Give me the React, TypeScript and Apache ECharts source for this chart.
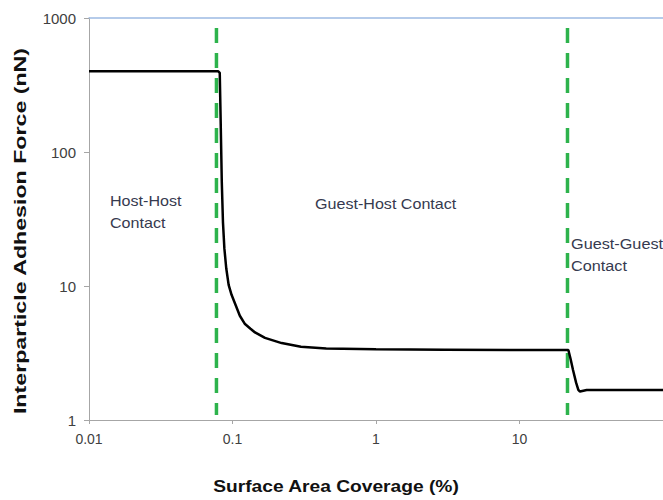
import React, { useEffect, useRef } from "react";
import * as echarts from "echarts";

// Surface area coverage (%) and interparticle adhesion force (nN)
const coverage = [0.01, 0.0796, 0.0815, 0.0828, 0.0842, 0.0858, 0.0878, 0.0905, 0.094, 0.0985, 0.1041, 0.1125, 0.1222, 0.1335, 0.1435, 0.1684, 0.22, 0.3, 0.45, 1, 3, 10, 21.9, 22.7, 23.6, 24.8, 25.7, 26.4, 29.4, 100];
const force = [400, 400, 390, 160, 60, 30, 19, 13.5, 10.2, 8.6, 7.4, 6.0, 5.2, 4.8, 4.5, 4.1, 3.75, 3.52, 3.42, 3.38, 3.35, 3.33, 3.33, 2.85, 2.36, 1.9, 1.68, 1.63, 1.675, 1.675];

// Regime boundaries (coverage %) and dashed line extent (nN)
const boundaries = [0.0773, 21.6];
const boundaryRange = [842, 1.09];

const regionLabels = ["Host-Host\nContact", "Guest-Host Contact", "Guest-Guest\nContact"];
const xTitle = "Surface Area Coverage (%)";
const yTitle = "Interparticle Adhesion Force (nN)";

const FONT = "'Liberation Sans', Arial, sans-serif";

export default function App() {
  const ref = useRef<HTMLDivElement>(null);
  useEffect(() => {
    if (!ref.current) return;
    const chart = echarts.init(ref.current, null, { renderer: "svg" });
    const curve = coverage.map((c, i) => [c, force[i]]);
    const boundarySeries = boundaries.map((b, i) => ({
      type: "line",
      name: "boundary" + i,
      data: boundaryRange.map((f) => [b, f]),
      symbol: "none",
      silent: true,
      lineStyle: { color: "#2db34c", width: 3.5, type: [15, 10] },
      z: 1,
    }));
    const labelStyle = (text: string) => ({
      text,
      font: `14px ${FONT}`,
      fill: "#363a4f",
      lineHeight: 22,
      align: "left",
      verticalAlign: "top",
    });
    chart.setOption({
      animation: false,
      backgroundColor: "#ffffff",
      textStyle: { fontFamily: FONT },
      grid: { left: 89, right: 0, top: 18, bottom: 80, containLabel: false },
      xAxis: [
        {
          type: "log",
          logBase: 10,
          min: 0.01,
          max: 100,
          position: "bottom",
          axisLine: { show: true, lineStyle: { color: "#a6a6a6", width: 1 } },
          axisTick: { show: true, length: 4, lineStyle: { color: "#a6a6a6" } },
          axisLabel: {
            fontSize: 14,
            color: "#404040",
            margin: 12,
            fontFamily: FONT,
            showMaxLabel: false,
            formatter: (v: number) => String(v),
          },
          splitLine: { show: false },
        },
        {
          type: "log",
          logBase: 10,
          min: 0.01,
          max: 100,
          position: "top",
          axisLine: { show: true, lineStyle: { color: "#9dbae3", width: 1.5 } },
          axisTick: { show: false },
          axisLabel: { show: false },
          splitLine: { show: false },
        },
      ],
      yAxis: {
        type: "log",
        logBase: 10,
        min: 1,
        max: 1000,
        axisLine: { show: true, lineStyle: { color: "#a6a6a6", width: 1 } },
        axisTick: { show: true, length: 5, lineStyle: { color: "#a6a6a6" } },
        axisLabel: { fontSize: 15, color: "#404040", margin: 13, fontFamily: FONT, formatter: (v: number) => String(v) },
        splitLine: { show: false },
      },
      series: [
        ...boundarySeries,
        {
          type: "line",
          name: "force",
          data: curve,
          symbol: "none",
          smooth: false,
          lineStyle: { color: "#000000", width: 2.5 },
          z: 3,
        },
      ],
      graphic: [
        { type: "text", x: 110, y: 190, scaleX: 1.15, style: labelStyle(regionLabels[0]) },
        { type: "text", x: 315, y: 193, scaleX: 1.15, style: labelStyle(regionLabels[1]) },
        { type: "text", x: 571, y: 233, scaleX: 1.16, style: labelStyle(regionLabels[2]) },
        {
          type: "text",
          x: 336,
          y: 487,
          scaleX: 1.2,
          style: { text: xTitle, font: `bold 16px ${FONT}`, fill: "#111111", align: "center", verticalAlign: "middle" },
        },
        {
          type: "text",
          x: 20,
          y: 231,
          rotation: Math.PI / 2,
          scaleX: 1.45,
          style: { text: yTitle, font: `bold 16px ${FONT}`, fill: "#111111", align: "center", verticalAlign: "middle" },
        },
      ],
    });
    return () => chart.dispose();
  }, []);
  return <div ref={ref} style={{ position: "absolute", left: 0, top: 0, width: 663, height: 500 }} />;
}
